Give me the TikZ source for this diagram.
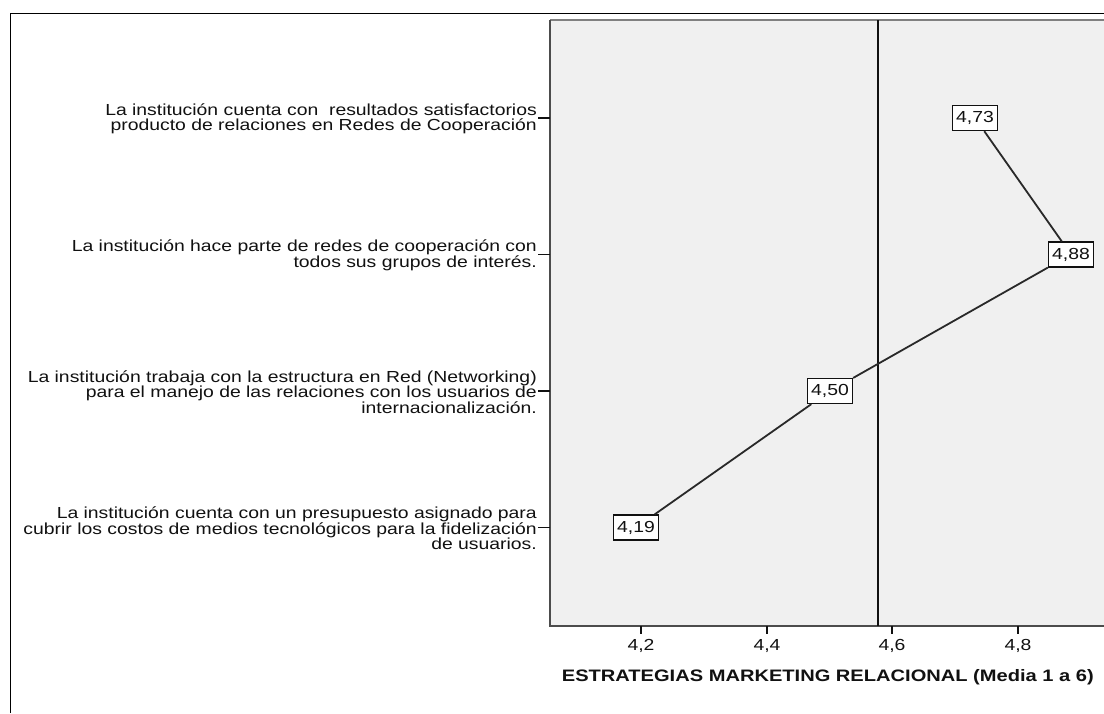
\documentclass[tikz,border=0pt]{standalone}
\usepackage{fontspec}
\setmainfont{Liberation Sans}[FakeStretch=1.21]
\definecolor{plotbg}{HTML}{F0F0F0}
\definecolor{ink}{HTML}{111111}
\begin{document}
\begin{tikzpicture}[x=1pt,y=-1pt,
  lab/.style={anchor=east, align=right, inner sep=0pt, text=ink, font=\fontsize{16}{15}\selectfont},
  val/.style={draw=ink, fill=white, line width=1.3pt, minimum width=45pt, minimum height=25pt, inner sep=0pt, text=ink, font=\fontsize{16}{16}\selectfont},
  conn/.style={line width=1.8pt, draw=ink!90},
  tick/.style={line width=1.4pt, draw=ink},
  ticklab/.style={inner sep=0pt, text=ink, font=\fontsize{16}{16}\selectfont},
  reference/.style={line width=1.6pt, draw=ink}]
\useasboundingbox (0,0) rectangle (1104,713);
\fill[white] (0,0) rectangle (1104,713);
% outer frame
\draw[black, line width=1.3pt] (10.5,713) -- (10.5,13.5) -- (1104,13.5);
% plot area
\fill[plotbg] (550,20) rectangle (1104,626);
\draw[black!50, line width=2pt] (550,20) -- (1104,20);
\draw[black!70, line width=2pt] (550,20) -- (550,626) -- (1104,626);
% category ticks and labels
\coordinate (c1) at (550,118);
\coordinate (c2) at (550,254.5);
\coordinate (c3) at (550,391);
\coordinate (c4) at (550,527.5);
\foreach \c in {c1,c2,c3,c4} {\draw[tick] (\c) -- ++(-12,0);}
\node[lab] (l1) at (537,119) {La institución cuenta con \ resultados satisfactorios\\producto de relaciones en Redes de Cooperación};
\node[lab] (l2) at (537,255.5) {La institución hace parte de redes de cooperación con\\todos sus grupos de interés.};
\node[lab] (l3) at (537,392) {La institución trabaja con la estructura en Red (Networking)\\para el manejo de las relaciones con los usuarios de\\internacionalización.};
\node[lab] (l4) at (537,528.5) {La institución cuenta con un presupuesto asignado para\\cubrir los costos de medios tecnológicos para la fidelización\\de usuarios.};
% x ticks
\foreach \x/\t in {641/{4,2},767/{4,4},892/{4,6},1018/{4,8}} {
  \draw[tick] (\x,626) -- (\x,634);
  \node[ticklab] at (\x,646) {\t};
}
% reference line
\coordinate (rt) at (878,20);
\coordinate (rb) at (878,626);
\draw[reference] (rt) -- (rb);
% data
\node[val] (p1) at (975,118) {4,73};
\node[val] (p2) at (1071,254.5) {4,88};
\node[val] (p3) at (830,391) {4,50};
\node[val] (p4) at (636,527.5) {4,19};
\draw[conn] (p1) -- (p2);
\draw[conn] (p2) -- (p3);
\draw[conn] (p3) -- (p4);
% axis title
\node[anchor=east, inner sep=0pt, text=ink, font=\bfseries\fontsize{16.6}{17}\selectfont] (title) at (1094,677) {ESTRATEGIAS MARKETING RELACIONAL (Media 1 a 6)};
\end{tikzpicture}
\end{document}
